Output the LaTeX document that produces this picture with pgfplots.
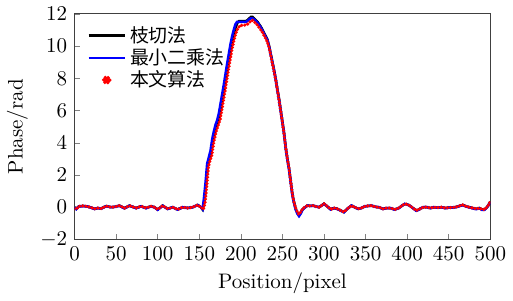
\documentclass[border=0pt]{standalone}
\usepackage{pgfplots}
\usepackage{pgfplotstable}
\usepackage{fontspec}
\pgfplotsset{compat=1.18}
\newfontfamily\cjk{Noto Sans CJK SC}

\pgfplotstableread{
x y
0 0.0
2 -0.1
5 0.05
10 0.08
15 0.05
20 -0.02
24 -0.1
28 -0.05
32 -0.08
38 0.07
44 0.0
48 0.02
54 0.1
60 -0.06
66 0.1
70 0.02
74 -0.05
80 0.06
86 -0.05
92 0.06
96 0.0
100 -0.14
106 0.1
112 -0.1
118 0.0
124 -0.14
130 0.0
136 -0.05
142 0.0
148 0.14
152 0.0
154 -0.14
156 0.3
158 1.3
160 2.6
162 3.0
164 3.3
166 4.0
168 4.5
170 4.9
172 5.2
174 5.5
176 6.1
178 6.7
180 7.3
182 7.95
184 8.6
186 9.2
188 9.8
190 10.4
192 10.8
194 11.2
196 11.45
198 11.55
202 11.55
206 11.55
208 11.6
210 11.7
212 11.8
214 11.8
216 11.7
218 11.6
220 11.5
222 11.35
224 11.2
226 11.0
228 10.8
230 10.6
232 10.4
234 10.0
236 9.5
238 9.0
240 8.5
242 7.95
244 7.3
246 6.7
248 6.0
250 5.3
252 4.6
254 3.7
256 3.0
258 2.4
260 1.6
262 0.8
264 0.3
266 -0.1
268 -0.35
270 -0.5
272 -0.35
274 -0.15
276 -0.05
280 0.1
284 0.08
287 0.1
290 0.05
294 0.0
297 0.1
300 0.22
304 0.05
308 -0.13
312 -0.05
316 -0.1
320 -0.2
324 -0.3
328 -0.1
333 0.1
337 0.0
341 -0.1
345 -0.05
349 0.05
353 0.08
357 0.1
362 0.02
366 0.0
371 -0.1
375 -0.05
380 -0.05
385 -0.14
390 -0.05
394 0.1
397 0.2
400 0.18
403 0.1
407 -0.05
411 -0.2
414 -0.15
417 -0.05
420 0.0
424 0.0
428 -0.05
432 0.0
436 -0.03
441 0.0
446 -0.05
450 -0.02
455 -0.02
460 0.03
464 0.1
467 0.14
471 0.05
475 0.0
479 -0.05
483 -0.1
487 -0.05
490 -0.14
493 -0.14
496 0.0
498 0.15
500 0.35
}\branchcut

\pgfplotstableread{
x y
0 -0.02
2 -0.12
5 0.04
10 0.07
15 0.05
20 -0.03
24 -0.11
28 -0.05
32 -0.09
38 0.06
44 0.0
48 0.02
54 0.09
60 -0.07
66 0.09
70 0.02
74 -0.06
80 0.05
86 -0.06
92 0.05
96 0.0
100 -0.16
106 0.09
112 -0.11
118 0.0
124 -0.15
130 0.0
136 -0.05
142 0.0
148 0.13
152 0.0
154 -0.12
155.5 0.5
157.5 1.5
159.5 2.7
161.5 3.1
163.5 3.5
165.5 4.2
167.5 4.7
169.5 5.1
171.5 5.4
173.5 5.8
175.5 6.4
177.5 7.0
179.5 7.6
181.5 8.25
183.5 8.9
185.5 9.5
187.5 10.1
189.5 10.6
191.5 11.0
193.5 11.35
195.5 11.5
198 11.5
202 11.5
206 11.5
208 11.55
210 11.65
212 11.72
214 11.72
216 11.65
218 11.55
220 11.45
222 11.3
224 11.15
226 10.95
228 10.75
230 10.55
232 10.35
234 9.95
236 9.45
238 8.95
240 8.45
242 7.9
244 7.25
246 6.65
248 5.95
250 5.25
252 4.55
254 3.65
256 2.95
258 2.35
260 1.55
262 0.75
264 0.25
266 -0.15
268 -0.4
270 -0.55
272 -0.4
274 -0.17
276 -0.06
280 0.1
284 0.08
287 0.1
290 0.05
294 0.0
297 0.1
300 0.2
304 0.05
308 -0.14
312 -0.06
316 -0.11
320 -0.21
324 -0.31
328 -0.1
333 0.1
337 0.0
341 -0.1
345 -0.05
349 0.05
353 0.08
357 0.1
362 0.02
366 0.0
371 -0.11
375 -0.06
380 -0.06
385 -0.15
390 -0.06
394 0.1
397 0.2
400 0.17
403 0.1
407 -0.06
411 -0.22
414 -0.16
417 -0.05
420 0.0
424 0.0
428 -0.06
432 0.0
436 -0.03
441 0.0
446 -0.06
450 -0.03
455 -0.03
460 0.02
464 0.09
467 0.13
471 0.04
475 -0.01
479 -0.07
483 -0.12
487 -0.07
490 -0.16
493 -0.16
496 -0.02
498 0.13
500 0.33
}\leastsq

\pgfplotstableread{
x y
0 -0.1
2 -0.12
5 0.05
10 0.08
15 0.05
20 -0.02
24 -0.1
28 -0.05
32 -0.08
38 0.07
44 0.0
48 0.02
54 0.1
60 -0.06
66 0.1
70 0.02
74 -0.05
80 0.06
86 -0.05
92 0.06
96 0.0
100 -0.14
106 0.1
112 -0.1
118 0.0
124 -0.14
130 0.0
136 -0.05
142 0.0
148 0.14
152 0.0
155 -0.14
157 0.3
159 1.3
161 2.5
163 2.9
165 3.2
167 3.9
169 4.4
171 4.8
173 5.1
175 5.4
177 6.0
179 6.6
181 7.2
183 7.85
185 8.5
187 9.1
189 9.7
191 10.2
193 10.6
195 10.95
197 11.15
199 11.25
202 11.3
206 11.3
208 11.35
210 11.45
212 11.55
214 11.6
216 11.5
218 11.4
220 11.3
222 11.15
224 11.0
226 10.85
228 10.65
230 10.45
232 10.25
234 9.9
236 9.4
238 8.9
240 8.4
242 7.9
244 7.25
246 6.65
248 5.95
250 5.25
252 4.55
254 3.7
256 3.0
258 2.4
260 1.6
262 0.8
264 0.3
266 -0.05
268 -0.3
270 -0.45
272 -0.3
274 -0.12
276 -0.03
280 0.1
284 0.08
287 0.1
290 0.05
294 0.0
297 0.1
300 0.22
304 0.05
308 -0.13
312 -0.05
316 -0.1
320 -0.2
324 -0.3
328 -0.1
333 0.1
337 0.0
341 -0.1
345 -0.05
349 0.05
353 0.08
357 0.1
362 0.02
366 0.0
371 -0.1
375 -0.05
380 -0.05
385 -0.14
390 -0.05
394 0.1
397 0.2
400 0.18
403 0.1
407 -0.05
411 -0.2
414 -0.15
417 -0.05
420 0.0
424 0.0
428 -0.05
432 0.0
436 -0.03
441 0.0
446 -0.05
450 -0.02
455 -0.02
460 0.03
464 0.1
467 0.14
471 0.05
475 0.0
479 -0.05
483 -0.1
487 -0.05
490 -0.14
493 -0.14
496 0.0
498 0.15
500 0.35
}\ours

\begin{document}
\begin{tikzpicture}
\begin{axis}[
  width=198pt, height=107.5pt, scale only axis,
  xmin=0, xmax=500, ymin=-2, ymax=12,
  xtick={0,50,...,500}, ytick={-2,0,...,12},
  tick pos=left, tick align=inside,
  major tick length=2.5pt,
  axis line style={line width=0.5pt, black!75},
  xlabel={Position/pixel}, ylabel={Phase/rad},
  xlabel style={yshift=1pt},
  ylabel style={yshift=-1pt},
  legend style={at={(0.025,0.975)}, anchor=north west, draw=none, fill=none,
    font=\cjk\small, row sep=-2.5pt, inner sep=1pt},
  legend cell align=left,
]
\addplot[black, line width=1.2pt] table[x=x,y=y] {\branchcut};
\addlegendentry{枝切法}
\addplot[blue, line width=1.2pt] table[x=x,y=y] {\leastsq};
\addlegendentry{最小二乘法}
\addplot[red, line width=1.7pt, line cap=round, dash pattern=on 0pt off 1.5pt,
  legend image code/.code={\fill[red] (0.3cm,0cm) circle (1.5pt);}] table[x=x,y=y] {\ours};
\addlegendentry{本文算法}
\end{axis}
\end{tikzpicture}
\end{document}
